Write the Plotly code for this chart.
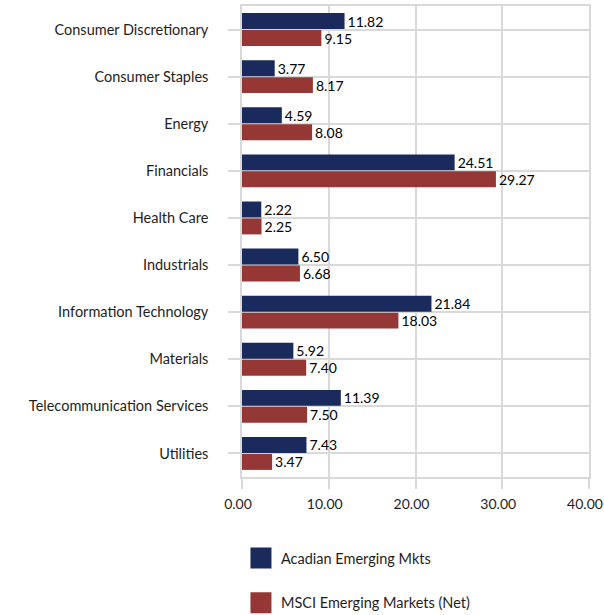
import plotly.graph_objects as go

categories = ["Consumer Discretionary", "Consumer Staples", "Energy", "Financials",
              "Health Care", "Industrials", "Information Technology", "Materials",
              "Telecommunication Services", "Utilities"]
acadian = [11.82, 3.77, 4.59, 24.51, 2.22, 6.50, 21.84, 5.92, 11.39, 7.43]
msci = [9.15, 8.17, 8.08, 29.27, 2.25, 6.68, 18.03, 7.40, 7.50, 3.47]
series_names = ["Acadian Emerging Mkts", "MSCI Emerging Markets (Net)"]
colors = ["#1a2a5c", "#953735"]
x_ticks = [0, 10, 20, 30, 40]

FONT = "Lato, 'Open Sans', sans-serif"
GRID = "#d9d9d9"
TXT = "#1e1e1e"

fig = go.Figure()
for name, vals, col in zip(series_names, [acadian, msci], colors):
    fig.add_trace(go.Bar(
        y=categories, x=vals, orientation="h", name=name,
        marker=dict(color=col, line=dict(width=0)),
        texttemplate="%{x:.2f}", textposition="outside",
        textfont=dict(color="#000000", size=14, family=FONT),
        constraintext="none", cliponaxis=False, showlegend=False,
    ))
# legend entries
for i, (name, col) in enumerate(zip(series_names, colors)):
    fig.add_trace(go.Scatter(
        x=[None], y=[None], mode="markers", name=name,
        legendgroup=f"g{i}",
        marker=dict(symbol="square", size=16, color=col, line=dict(color=col, width=5)),
        showlegend=True,
    ))

fig.update_layout(
    width=604, height=615,
    margin=dict(l=242, r=15, t=6, b=138, autoexpand=False),
    paper_bgcolor="white", plot_bgcolor="white",
    barmode="group", bargap=0.28, bargroupgap=0.06,
    font=dict(family=FONT, size=14, color=TXT),
    legend=dict(
        orientation="v", x=-0.003, xanchor="left", y=-0.138, yanchor="top",
        traceorder="grouped", tracegroupgap=23, itemsizing="trace",
        font=dict(size=14.5, family=FONT, color=TXT),
        bgcolor="rgba(0,0,0,0)",
    ),
    showlegend=True,
)
fig.update_xaxes(
    range=[0, 40], tickvals=x_ticks, ticktext=[f"{v:.2f}" for v in x_ticks],
    showgrid=True, gridcolor=GRID, gridwidth=1.5,
    showline=True, linecolor=GRID, linewidth=1.5, mirror=True,
    ticks="outside", ticklen=10, tickcolor=GRID, tickwidth=1.5,
    ticklabelstandoff=3, ticklabelshift=-4, zeroline=False, ticklabeloverflow="allow",
    automargin=False,
    tickfont=dict(size=14, family=FONT, color=TXT),
)
fig.update_yaxes(
    autorange="reversed", categoryorder="array", categoryarray=categories,
    showgrid=True, gridcolor=GRID, gridwidth=1.5,
    showline=True, linecolor=GRID, linewidth=1.5, mirror=True,
    ticks="outside", ticklen=12, tickcolor=GRID, tickwidth=1.5,
    ticklabelstandoff=17, automargin=False,
    tickfont=dict(size=14.5, family=FONT, color=TXT),
)

fig.write_html("out.html", config={"displayModeBar": False},
               post_script="document.body.style.margin='0';")
